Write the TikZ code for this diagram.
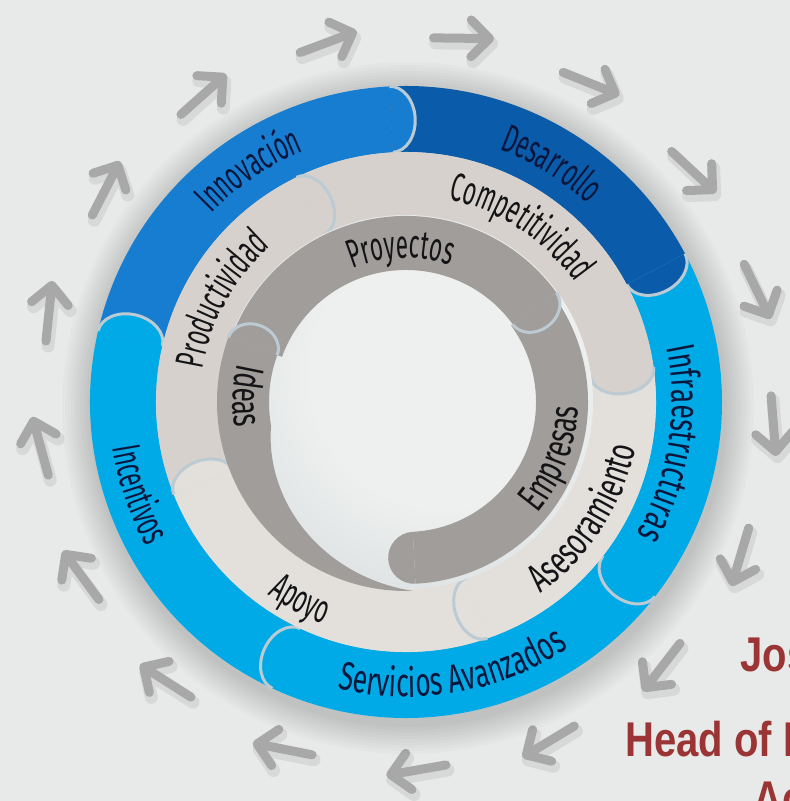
\documentclass[tikz,border=0pt]{standalone}
\usepackage{fontspec}
\usetikzlibrary{decorations.text}
\newfontfamily\hand[FakeStretch=0.56]{Fira Sans}
\newfontfamily\handw[FakeStretch=0.66]{Fira Sans}
\newfontfamily\namefont[FakeStretch=0.82]{Liberation Sans}
\definecolor{bg}{RGB}{232,234,233}
\definecolor{midblue}{RGB}{22,125,208}
\definecolor{darkblue}{RGB}{10,92,170}
\definecolor{lightblue}{RGB}{0,170,230}
\definecolor{beigeA}{RGB}{214,209,204}
\definecolor{beigeB}{RGB}{227,224,220}
\definecolor{grayring}{RGB}{161,157,154}
\definecolor{capline}{RGB}{188,202,212}
\definecolor{arrowgray}{RGB}{168,168,168}
\definecolor{namered}{RGB}{155,52,52}
\definecolor{ink}{RGB}{20,20,22}
\definecolor{navy}{RGB}{10,22,60}
\definecolor{holein}{RGB}{238,240,239}
\definecolor{holeout}{RGB}{192,200,205}
\pgfdeclareradialshading{holeshade}{\pgfpoint{8bp}{6bp}}{color(0bp)=(holein); color(18bp)=(holein); color(50bp)=(holeout)}

\newcommand\ringband[5]{\fill[#1] ({#2}:#5) arc[start angle={#2}, end angle={#3}, radius=#5] -- ({#3}:#4) arc[start angle={#3}, end angle={#2}, radius=#4] -- cycle;}
\newcommand\bandcap[6]{%
  \begin{scope}[rotate=#2]
    \fill[#1] (#4,0) arc[start angle=0, end angle=-180, x radius={(#4-#3)/2}, y radius=#5] -- cycle;
    \draw[#6] (#4,0) arc[start angle=0, end angle=-180, x radius={(#4-#3)/2}, y radius=#5];
  \end{scope}}
% #1 font, #2 colour, #3 centre angle, #4 baseline radius, #5 text
\newcommand\cwlabel[5]{\path[decorate,decoration={text along path, text align=center, text={|#1\fontsize{20}{20}\selectfont\color{#2}|#5}}] ({#3+50}:#4) arc[start angle={#3+50}, end angle={#3-50}, radius=#4];}
\newcommand\ccwlabel[5]{\path[decorate,decoration={text along path, text align=center, text={|#1\fontsize{20}{20}\selectfont\color{#2}|#5}}] ({#3-50}:#4) arc[start angle={#3-50}, end angle={#3+50}, radius=#4];}

\begin{document}
\begin{tikzpicture}[x=0.5pt,y=0.5pt,
  arrowline/.style={draw=arrowgray, line width=4.5pt, line cap=round, line join=round},
  arrowshadow/.style={draw=black, opacity=0.07, line width=6.5pt, line cap=round, line join=round},
  capedge/.style={draw=capline, line width=1.5pt},
  namestyle/.style={anchor=base west, inner sep=0pt, text=namered, font=\namefont\bfseries\fontsize{24.4}{24.4}\selectfont}]
\useasboundingbox (0,0) rectangle (790,801);
\clip (0,0) rectangle (790,801);
\fill[bg] (0,0) rectangle (790,801);

\begin{scope}[shift={(406,399)}]
  % arrows
  \foreach \k in {0,...,16}{
    \pgfmathsetmacro\arrang{102.5-21.176*\k}
    \pgfmathsetmacro\arrdir{\arrang-82}
    \begin{scope}[shift={(\arrang:368)}]
      \begin{scope}[shift={(2,-5)}, rotate=\arrdir]
        \draw[arrowshadow] (-28,0) -- (28,0) (9.6,18.4) -- (28,0) -- (9.6,-18.4);
      \end{scope}
      \begin{scope}[rotate=\arrdir]
        \draw[arrowline] (-28,0) -- (28,0) (9.6,18.4) -- (28,0) -- (9.6,-18.4);
      \end{scope}
    \end{scope}
  }
  % ring shadow
  \foreach \i in {1,...,10}{\fill[black, opacity=0.016] (2,-6) circle[radius={316+3*\i}];}

  % blue ring
  \ringband{midblue}{167}{93}{250}{316}
  \ringband{darkblue}{93}{28}{250}{316}
  \ringband{lightblue}{28}{-38}{250}{316}
  \ringband{lightblue}{-38}{-115}{250}{316}
  \ringband{lightblue}{-115}{-193}{250}{316}
  \bandcap{midblue}{93}{250}{316}{24}{capedge}
  \bandcap{darkblue}{28}{250}{316}{24}{capedge}
  \bandcap{lightblue}{-38}{250}{316}{24}{capedge}
  \bandcap{lightblue}{-115}{250}{316}{24}{capedge}
  \bandcap{lightblue}{-193}{250}{316}{24}{capedge}

  % beige ring
  \ringband{beigeA}{201.7}{116}{186}{250}
  \ringband{beigeA}{116}{8}{186}{250}
  \ringband{beigeB}{8}{-71}{186}{250}
  \ringband{beigeB}{-71}{-158.3}{186}{250}
  \bandcap{beigeA}{116}{186}{250}{22}{capedge}
  \bandcap{beigeA}{8}{186}{250}{22}{capedge}
  \bandcap{beigeB}{-71}{186}{250}{22}{capedge}
  \bandcap{beigeB}{-158.3}{186}{250}{22}{capedge}

  % hole
  \shade[shading=holeshade] (0,0) circle[radius=187];

  % gray ring
  \ringband{grayring}{160}{36}{132}{186}
  \ringband{grayring}{36}{-87}{130}{182}
  \fill[grayring] (160:189) arc[start angle=160, end angle=272, radius=189]
     -- plot[domain=272:160, samples=57] (\x:{137+52*max(0,\x-190)/82}) -- cycle;
  \bandcap{grayring}{160}{137}{189}{22}{capedge}
  \bandcap{grayring}{36}{132}{186}{22}{capedge}
  \bandcap{grayring}{-87}{130}{182}{26}{draw=none}

  % labels
  \cwlabel{\hand}{navy}{124}{271}{Innovación}
  \cwlabel{\hand}{navy}{58.5}{269}{Desarrollo}
  \cwlabel{\handw}{navy}{-9}{266}{Infraestructuras}
  \ccwlabel{\handw}{navy}{-80}{295}{Servicios Avanzados}
  \ccwlabel{\hand}{navy}{199}{297}{Incentivos}
  \cwlabel{\hand}{ink}{151}{206}{Productividad}
  \cwlabel{\hand}{ink}{56.7}{207}{Competitividad}
  \ccwlabel{\handw}{ink}{-33}{234}{Asesoramiento}
  \ccwlabel{\hand}{ink}{-118}{237}{Apoyo}
  \cwlabel{\hand}{ink}{92}{144}{Proyectos}
  \ccwlabel{\handw}{ink}{178}{173}{Ideas}
  \ccwlabel{\handw}{ink}{-21}{172}{Empresas}
\end{scope}

\node[namestyle] (jos) at (740,129) {Jos};
\node[namestyle] (head) at (625,44) {Head of I};
\node[namestyle] (ac) at (753,-14) {Ac};
\end{tikzpicture}
\end{document}
